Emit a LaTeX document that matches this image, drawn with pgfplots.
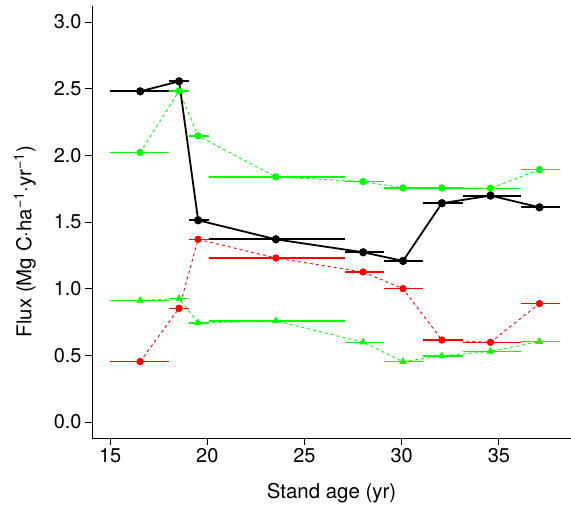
\documentclass[border=0pt]{standalone}
\usepackage{pgfplots}
\pgfplotsset{compat=1.18}
\usepackage{pgfplotstable}
\usepackage{fontspec}
\setmainfont{TeX Gyre Heros}
\definecolor{rgreen}{RGB}{0,255,0}
\definecolor{rred}{RGB}{255,0,0}
\pgfplotstableread{
x     lo     hi     blk    grn    red    tri
16.55 15.00  18.05  2.480  2.021  0.453  0.911
18.55 18.05  19.06  2.555  2.483  0.853  0.926
19.53 19.06  20.08  1.513  2.146  1.370  0.743
23.53 20.08  27.09  1.370  1.838  1.230  0.758
28.02 27.09  29.11  1.273  1.803  1.125  0.598
30.07 29.11  31.12  1.208  1.756  1.000  0.453
32.07 31.12  33.14  1.641  1.756  0.615  0.495
34.57 33.14  36.14  1.698  1.753  0.598  0.530
37.09 36.14  38.15  1.610  1.893  0.888  0.603
}\data
\begin{document}
\begin{tikzpicture}
\begin{axis}[
  scale only axis, width=479bp, height=432bp,
  xmin=14.07, xmax=38.71, ymin=-0.12, ymax=3.12,
  axis lines=left, axis line style={-, line width=0.8bp},
  tick align=outside, major tick length=7bp,
  tick style={line width=0.8bp, black},
  xtick={15,20,25,30,35}, ytick={0,0.5,1,1.5,2,2.5,3},
  /pgf/number format/assume math mode=true,
  y tick label style={/pgf/number format/.cd, fixed, fixed zerofill, precision=1},
  tick label style={font=\fontsize{20}{24}\selectfont},
  label style={font=\fontsize{20.5}{24}\selectfont},
  xlabel={Stand age (yr)},
  ylabel={Flux (Mg C\textperiodcentered ha\textsuperscript{\char"2212 1}\textperiodcentered yr\textsuperscript{\char"2212 1})},
  xlabel shift=13bp, ylabel shift=11bp,
  ylabel style={at={(ticklabel cs:0.455)}},
  clip=false,
  error bars/x dir=both, error bars/x explicit, error bars/error mark=none,
]
% green circles
\addplot[rgreen, line width=0.9bp, dash pattern=on 3bp off 3bp, mark=*, mark size=3.2bp,
  mark options={solid},
  error bars/error bar style={solid, line width=1.3bp, rgreen}]
  table[x=x, y=grn, x error minus expr={\thisrow{x}-\thisrow{lo}}, x error plus expr={\thisrow{hi}-\thisrow{x}}] {\data};
% red circles
\addplot[rred, line width=0.9bp, dash pattern=on 3bp off 3bp, mark=*, mark size=3.2bp,
  mark options={solid},
  error bars/error bar style={solid, line width=1.3bp, rred}]
  table[x=x, y=red, x error minus expr={\thisrow{x}-\thisrow{lo}}, x error plus expr={\thisrow{hi}-\thisrow{x}}] {\data};
% green triangles
\addplot[rgreen, line width=0.9bp, dash pattern=on 3bp off 3bp, mark=triangle*, mark size=3.5bp,
  mark options={solid},
  error bars/error bar style={solid, line width=1.3bp, rgreen}]
  table[x=x, y=tri, x error minus expr={\thisrow{x}-\thisrow{lo}}, x error plus expr={\thisrow{hi}-\thisrow{x}}] {\data};
% black
\addplot[black, line width=1.8bp, mark=*, mark size=3.2bp,
  mark options={solid},
  error bars/error bar style={solid, line width=2bp, black}]
  table[x=x, y=blk, x error minus expr={\thisrow{x}-\thisrow{lo}}, x error plus expr={\thisrow{hi}-\thisrow{x}}] {\data};
\end{axis}
\pgfresetboundingbox
\path (current axis.south west) ++(-92bp,-72bp) rectangle ++(571bp,510bp);
\end{tikzpicture}
\end{document}
